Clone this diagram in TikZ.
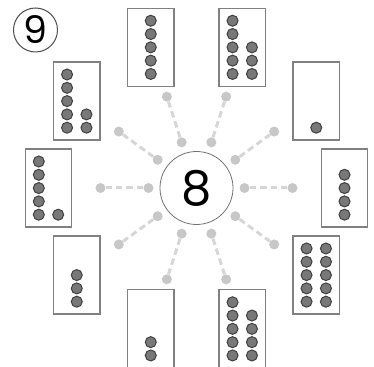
\documentclass[tikz,border=0pt]{standalone}
\usepackage{fontspec}
\setmainfont{Poppins}
\tikzset{
  hub/.style = {circle, draw=black!55, line width=0.8pt, minimum size=73pt, inner sep=0pt, font=\fontsize{48}{48}\selectfont},
  knob/.style = {circle, fill=black!22, minimum size=10pt, inner sep=0pt},
  spoke/.style = {black!16, line width=3pt, dash pattern=on 6.5pt off 4pt},
  card/.style = {draw=black!50, line width=1.1pt, minimum width=46.5pt, minimum height=78pt, inner sep=0pt},
  bead/.style = {circle, fill=black!53, draw=black!75, line width=1pt, minimum size=11pt, inner sep=0pt},
  badge/.style = {circle, draw=black!70, line width=1pt, minimum size=44pt, inner sep=0pt, font=\fontsize{38}{38}\selectfont},
}

\begin{document}
\begin{tikzpicture}[x=1pt, y=1pt]
  \useasboundingbox (-196.5,-178) rectangle (177.5,188);
  \node [hub] (hub) at (0,0) {8};
  \foreach \a/\n [count=\i] in {0/4, 36/1, 72/8, 108/5, 144/7, 180/6, 216/3, 252/2, 288/9, 324/10}{
    \node [knob] (in\i) at (\a:48) {};
    \node [knob] (out\i) at (\a:96) {};
    \draw [spoke] (in\i) -- (out\i);
    \node [card] (card\i) at (\a:148) {};
    \pgfmathtruncatemacro\colA{min(\n,5)}
    \pgfmathtruncatemacro\colB{\n-\colA}
    \pgfmathsetmacro\sx{ifthenelse(\n>5,-9.7,0)}
    \foreach \k in {1,...,\colA}
      \node [bead] (bead\i-\k) at ([shift={(\sx,-40+13.3*\k)}]card\i.center) {};
    \ifnum\colB>0
      \foreach \k in {1,...,\colB}
        \node [bead] (bead\i-r\k) at ([shift={(9.7,-40+13.3*\k)}]card\i.center) {};
    \fi
  }
  \node [badge] (num) at (-161,158) {9};
\end{tikzpicture}
\end{document}
